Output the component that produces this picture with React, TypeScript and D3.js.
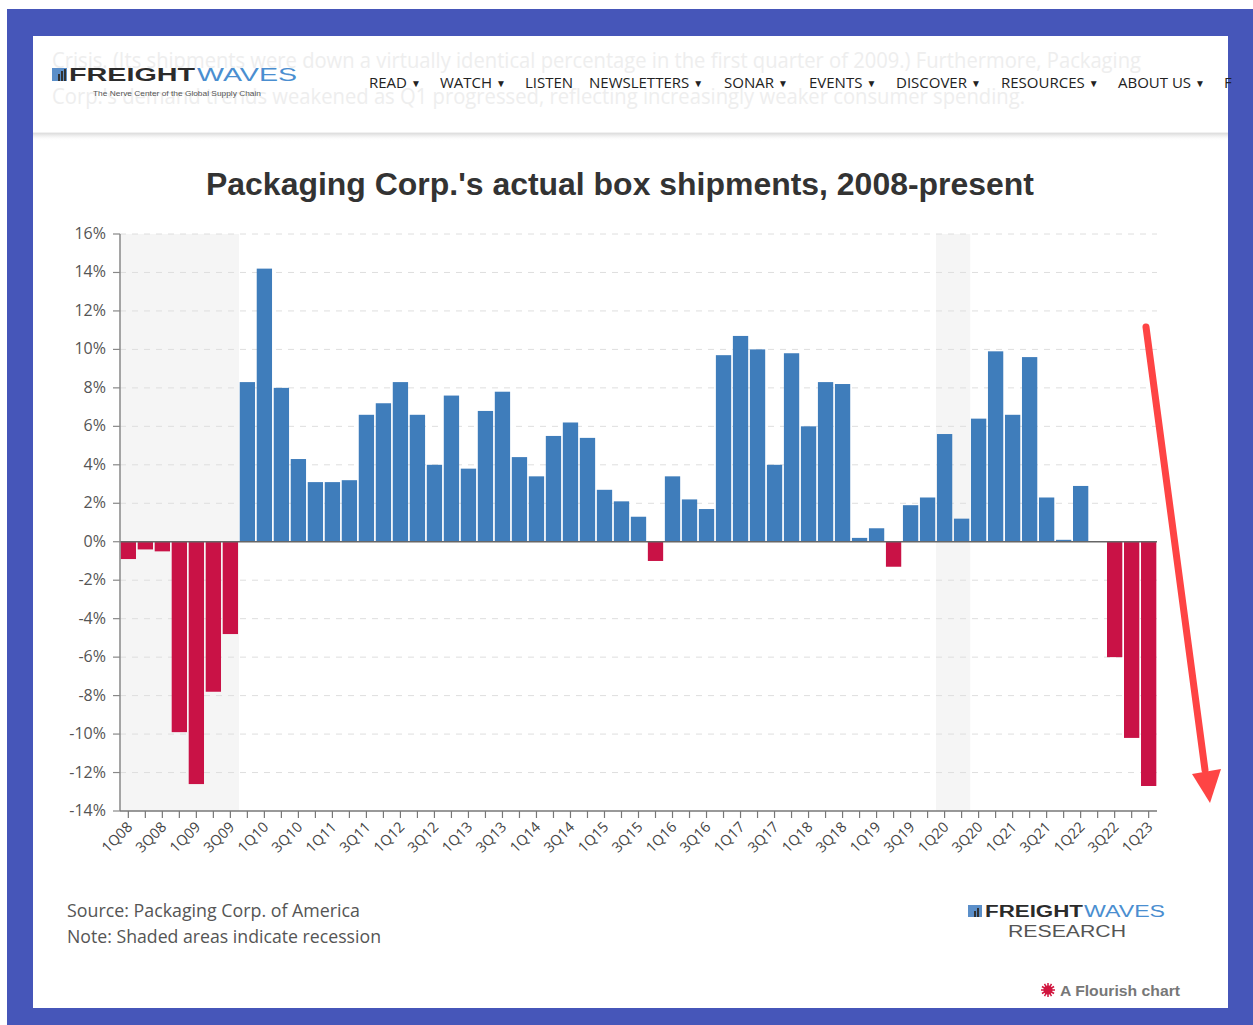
import React from 'react';
import * as d3 from 'd3';

// quarterly change in box shipments (%), 1Q08 .. 1Q23
const quarters = [
  '1Q08', '2Q08', '3Q08', '4Q08', '1Q09', '2Q09', '3Q09', '4Q09',
  '1Q10', '2Q10', '3Q10', '4Q10', '1Q11', '2Q11', '3Q11', '4Q11',
  '1Q12', '2Q12', '3Q12', '4Q12', '1Q13', '2Q13', '3Q13', '4Q13',
  '1Q14', '2Q14', '3Q14', '4Q14', '1Q15', '2Q15', '3Q15', '4Q15',
  '1Q16', '2Q16', '3Q16', '4Q16', '1Q17', '2Q17', '3Q17', '4Q17',
  '1Q18', '2Q18', '3Q18', '4Q18', '1Q19', '2Q19', '3Q19', '4Q19',
  '1Q20', '2Q20', '3Q20', '4Q20', '1Q21', '2Q21', '3Q21', '4Q21',
  '1Q22', '2Q22', '3Q22', '4Q22', '1Q23',
];

const shipments = [
  -0.9, -0.4, -0.5, -9.9, -12.6, -7.8, -4.8, 8.3,
  14.2, 8.0, 4.3, 3.1, 3.1, 3.2, 6.6, 7.2,
  8.3, 6.6, 4.0, 7.6, 3.8, 6.8, 7.8, 4.4,
  3.4, 5.5, 6.2, 5.4, 2.7, 2.1, 1.3, -1.0,
  3.4, 2.2, 1.7, 9.7, 10.7, 10.0, 4.0, 9.8,
  6.0, 8.3, 8.2, 0.2, 0.7, -1.3, 1.9, 2.3,
  5.6, 1.2, 6.4, 9.9, 6.6, 9.6, 2.3, 0.1,
  2.9, 0, -6.0, -10.2, -12.7,
];

const recessionStarts = ['1Q08', '1Q20'];
const recessionEnds = ['3Q09', '2Q20'];

const yTicks = [16, 14, 12, 10, 8, 6, 4, 2, 0, -2, -4, -6, -8, -10, -12, -14];

const menuItems = ['READ', 'WATCH', 'LISTEN', 'NEWSLETTERS', 'SONAR', 'EVENTS', 'DISCOVER', 'RESOURCES', 'ABOUT US'];
const menuArrows = [true, true, false, true, true, true, true, true, true];
const menuX = [369, 440, 525, 589, 724, 809, 896, 1001, 1118];

const BLUE = '#3f7dbb';
const RED = '#c91246';
const FRAME = '#4656b9';
const narrow = '"Liberation Sans Narrow", "Open Sans", sans-serif';
const sans = '"Liberation Sans", Arial, sans-serif';

const App = () => {
  const W = 1253;
  const H = 1025;
  const m = { l: 120, r: 1157, t: 234, b: 811 };

  const x = d3.scaleBand<string>().domain(quarters).range([m.l, m.r]).paddingInner(0.1).paddingOuter(0.04);
  const y = d3.scaleLinear().domain([-14, 16]).range([m.b, m.t]);
  const bw = x.bandwidth();
  const labelQs = quarters.filter((q, i) => i % 2 === 0);

  return (
    <svg width={W} height={H} style={{ position: 'absolute', left: 0, top: 0 }}>
      <defs>
        <linearGradient id="hdrShadow" x1="0" y1="0" x2="0" y2="1">
          <stop offset="0%" stopColor="#d8d8d8" />
          <stop offset="100%" stopColor="#ffffff" stopOpacity={0} />
        </linearGradient>
      </defs>
      <rect x={0} y={0} width={W} height={H} fill="#fff" />
      <rect x={7} y={9} width={W - 7} height={H - 9} fill={FRAME} />
      <rect x={33} y={36} width={1195} height={972} fill="#fff" />

      {/* header strip, with the article text faintly showing behind it */}
      <rect x={33} y={133} width={1195} height={8} fill="url(#hdrShadow)" />
      <line x1={33} x2={1228} y1={133} y2={133} stroke="#e2e2e2" strokeWidth={1} />
      <text x={52} y={68} fontFamily={'"Open Sans", sans-serif'} fontSize={21} fill="#eeeeee"
        textLength={1089} lengthAdjust="spacingAndGlyphs">
        Crisis. (Its shipments were down a virtually identical percentage in the first quarter of 2009.) Furthermore, Packaging
      </text>
      <text x={52} y={104} fontFamily={'"Open Sans", sans-serif'} fontSize={21} fill="#eeeeee"
        textLength={973} lengthAdjust="spacingAndGlyphs">
        Corp.'s demand trends weakened as Q1 progressed, reflecting increasingly weaker consumer spending.
      </text>
      <g>
        <rect x={52} y={68} width={15} height={13} fill="#5b8fc9" />
        <rect x={58} y={74} width={2} height={7} fill="#333" />
        <rect x={61} y={71} width={2} height={10} fill="#333" />
        <rect x={64} y={69} width={2} height={12} fill="#333" />
        <text x={69} y={81} fontFamily={sans} fontWeight="bold" fontSize={18} fill="#2b2b2b"
          textLength={126} lengthAdjust="spacingAndGlyphs">FREIGHT</text>
        <text x={197} y={81} fontFamily={sans} fontSize={18} fill="#4a8ed0"
          textLength={100} lengthAdjust="spacingAndGlyphs">WAVES</text>
        <text x={93} y={96} fontFamily={sans} fontSize={7} fill="#555"
          textLength={168} lengthAdjust="spacingAndGlyphs">The Nerve Center of the Global Supply Chain</text>
      </g>
      {menuItems.map((it, i) => (
        <text key={it} x={menuX[i]} y={88} fontFamily={narrow} fontSize={15} fill="#222">
          {it}
          {menuArrows[i] ? <tspan fontSize={10} dx={4} dy={-1}>▼</tspan> : null}
        </text>
      ))}
      <text x={1224} y={88} fontFamily={narrow} fontSize={15} fill="#222">F</text>

      {/* title */}
      <text x={620} y={195} textAnchor="middle" fontFamily={sans} fontWeight="bold" fontSize={31} fill="#333"
        textLength={828} lengthAdjust="spacingAndGlyphs">
        Packaging Corp.'s actual box shipments, 2008-present
      </text>

      {/* recession shading */}
      {recessionStarts.map((s, i) => (
        <rect key={s} x={(x(s) as number) - 1} y={m.t}
          width={(x(recessionEnds[i]) as number) + bw - (x(s) as number) + 2}
          height={m.b - m.t} fill="#f5f5f5" />
      ))}

      {/* gridlines */}
      {yTicks.filter(t => t !== 0 && t !== -14).map(t => (
        <line key={t} x1={m.l} x2={m.r} y1={y(t)} y2={y(t)} stroke="#dedede" strokeWidth={1} strokeDasharray="6,6" />
      ))}

      {/* bars */}
      {shipments.map((v, i) => (
        <rect key={quarters[i]} x={x(quarters[i])} y={y(Math.max(0, v))} width={bw}
          height={Math.abs(y(v) - y(0))} fill={v >= 0 ? BLUE : RED} />
      ))}

      {/* zero line */}
      <line x1={m.l} x2={m.r} y1={y(0)} y2={y(0)} stroke="#666" strokeWidth={1.5} />

      {/* y axis */}
      <line x1={m.l} x2={m.l} y1={m.t} y2={m.b} stroke="#888" strokeWidth={1.5} />
      {yTicks.map(t => (
        <g key={t}>
          <line x1={m.l - 7} x2={m.l} y1={y(t)} y2={y(t)} stroke="#888" strokeWidth={1.2} />
          <text x={m.l - 14} y={y(t) + 5} textAnchor="end" fontFamily={narrow} fontSize={16} fill="#555">{t}%</text>
        </g>
      ))}

      {/* x axis */}
      <line x1={m.l} x2={m.r} y1={m.b} y2={m.b} stroke="#777" strokeWidth={1.5} />
      {quarters.map(q => (
        <line key={q} x1={(x(q) as number) + bw / 2} x2={(x(q) as number) + bw / 2} y1={m.b} y2={m.b + 7}
          stroke="#777" strokeWidth={1.2} />
      ))}
      {labelQs.map(q => {
        const cx = (x(q) as number) + bw / 2 + 5;
        const cy = m.b + 17;
        return (
          <text key={q} transform={`translate(${cx},${cy}) rotate(-45)`} textAnchor="end"
            fontFamily={narrow} fontSize={14.5} fill="#444">{q}</text>
        );
      })}

      {/* notes */}
      <text x={67} y={917} fontFamily={narrow} fontSize={18} fill="#555"
        textLength={293} lengthAdjust="spacingAndGlyphs">Source: Packaging Corp. of America</text>
      <text x={67} y={943} fontFamily={narrow} fontSize={18} fill="#555"
        textLength={314} lengthAdjust="spacingAndGlyphs">Note: Shaded areas indicate recession</text>

      {/* research logo */}
      <g>
        <rect x={968} y={905} width={14} height={12} fill="#5b8fc9" />
        <rect x={974} y={911} width={2} height={6} fill="#333" />
        <rect x={977} y={908} width={2} height={9} fill="#333" />
        <text x={985} y={917} fontFamily={sans} fontWeight="bold" fontSize={16} fill="#2b2b2b"
          textLength={98} lengthAdjust="spacingAndGlyphs">FREIGHT</text>
        <text x={1084} y={917} fontFamily={sans} fontSize={16} fill="#4a8ed0"
          textLength={81} lengthAdjust="spacingAndGlyphs">WAVES</text>
        <text x={1067} y={937} textAnchor="middle" fontFamily={sans} fontSize={16} fill="#555"
          textLength={118} lengthAdjust="spacingAndGlyphs">RESEARCH</text>
      </g>

      {/* flourish credit */}
      <g transform="translate(1048,990)">
        {d3.range(12).map(k => (
          <line key={k} x1={0} y1={0} x2={7 * Math.cos((k * Math.PI) / 6)} y2={7 * Math.sin((k * Math.PI) / 6)}
            stroke="#d1163f" strokeWidth={1.5} />
        ))}
        <circle r={4.5} fill="#d1163f" />
      </g>
      <text x={1060} y={996} fontFamily={sans} fontWeight="bold" fontSize={15} fill="#777"
        textLength={120} lengthAdjust="spacingAndGlyphs">A Flourish chart</text>

      {/* annotation arrow */}
      <line x1={1146} y1={327} x2={1205} y2={770} stroke="#fe4444" strokeWidth={7} strokeLinecap="round" />
      <path d="M1192,774 L1221,769 L1210,803 Z" fill="#fe4444" />
    </svg>
  );
};

export default App;
